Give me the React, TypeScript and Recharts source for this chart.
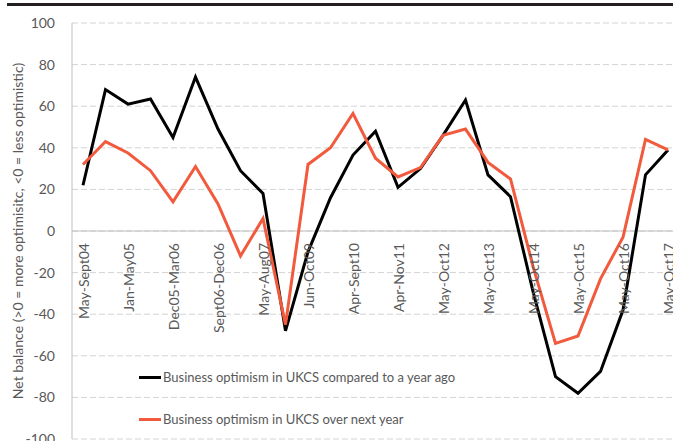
import { LineChart, Line, XAxis, YAxis, CartesianGrid, ReferenceLine } from 'recharts';

const periods = [
  'May-Sept04', 'Oct04-Jan05', 'Jan-May05', 'May-Nov05', 'Dec05-Mar06', 'Apr-Aug06',
  'Sept06-Dec06', 'Jan-Apr07', 'May-Aug07', 'Sept08-Mar09', 'Jun-Oct09', 'Nov09-Mar10',
  'Apr-Sept10', 'Oct10-Mar11', 'Apr-Nov11', 'Dec11-Apr12', 'May-Oct12', 'Nov12-Apr13',
  'May-Oct13', 'Nov13-Apr14', 'May-Oct14', 'Nov14-Apr15', 'May-Oct15', 'Nov15-Apr16',
  'May-Oct16', 'Nov16-Apr17', 'May-Oct17',
];
const vsYearAgo = [22, 68, 61, 63.5, 45, 74, 49, 29, 18, -48, -10, 16, 36.5, 48, 21, 30, 46, 63, 27, 16.5, -29, -70, -78, -67.5, -38, 27, 39];
const nextYear = [32, 43, 37.5, 29, 14, 31, 13, -12, 6, -45, 32, 40, 56.5, 35, 26, 30.5, 46, 49, 33, 25, -17, -54, -50.5, -23, -3, 44, 39];
const yTicks = [-100, -80, -60, -40, -20, 0, 20, 40, 60, 80, 100];

const series = [
  { key: 'ago', name: 'Business optimism in UKCS compared to a year ago', color: '#000000' },
  { key: 'next', name: 'Business optimism in UKCS over next year', color: '#f15a3c' },
];

const data = periods.map((p, i) => ({ period: p, ago: vsYearAgo[i], next: nextYear[i] }));

const W = 673;
const H = 441;
const TOP = 23;
const PLOT_H = 416;
const ZERO_Y = TOP + PLOT_H / 2;
const FONT = 'Lato, sans-serif';
const TEXT = '#595959';

const ZeroTick = (props: any) => {
  const { x, payload } = props;
  return (
    <text
      x={x}
      y={ZERO_Y + 12}
      transform={`rotate(-90, ${x}, ${ZERO_Y + 12})`}
      textAnchor="end"
      dominantBaseline="central"
      fontSize={14}
      fontFamily={FONT}
      fill={TEXT}
    >
      {payload.value}
    </text>
  );
};

const YTitle = (props: any) => {
  const { viewBox } = props;
  const cx = 17;
  const cy = viewBox.y + viewBox.height / 2;
  return (
    <text
      x={cx}
      y={cy}
      transform={`rotate(-90, ${cx}, ${cy})`}
      textAnchor="middle"
      dominantBaseline="central"
      fontSize={14}
      fontFamily={FONT}
      fill={TEXT}
    >
      Net balance (&gt;0 = more optimisitc, &lt;0 = less optimistic)
    </text>
  );
};

export default function App() {
  return (
    <div style={{ position: 'absolute', left: 0, top: 0, width: W, height: H, overflow: 'hidden', background: '#fff' }}>
      <div style={{ position: 'absolute', left: 7, top: 3, width: W - 7, height: 3, background: '#231f20' }} />
      <LineChart width={W} height={H} data={data} margin={{ top: TOP, right: 0, left: 0, bottom: 0 }}>
        <CartesianGrid vertical={false} stroke="#d4d4d4" strokeDasharray="6 3" />
        <XAxis
          dataKey="period"
          height={2}
          interval={1}
          axisLine={false}
          tickLine={false}
          padding={{ left: 11, right: 5 }}
          tick={<ZeroTick />}
        />
        <YAxis
          width={72}
          domain={[-100, 100]}
          ticks={yTicks}
          interval={0}
          axisLine={{ stroke: '#bfbfbf' }}
          tickLine={false}
          tickMargin={11}
          tick={{ fontSize: 14, fontFamily: FONT, fill: TEXT }}
          label={<YTitle />}
        />
        <ReferenceLine y={0} stroke="#bfbfbf" strokeWidth={1} />
        {series.map((s) => (
          <Line
            key={s.key}
            dataKey={s.key}
            name={s.name}
            stroke={s.color}
            strokeWidth={3}
            dot={false}
            isAnimationActive={false}
            strokeLinejoin="miter"
          />
        ))}
      </LineChart>
      <div style={{ position: 'absolute', left: 139, top: 367, fontFamily: FONT, fontSize: 13, color: TEXT }}>
        {series.map((s) => (
          <div key={s.key} style={{ display: 'flex', alignItems: 'center', height: 20, marginBottom: 22 }}>
            <span style={{ display: 'inline-block', width: 22, height: 3, background: s.color, marginRight: 2 }} />
            <span>{s.name}</span>
          </div>
        ))}
      </div>
    </div>
  );
}
